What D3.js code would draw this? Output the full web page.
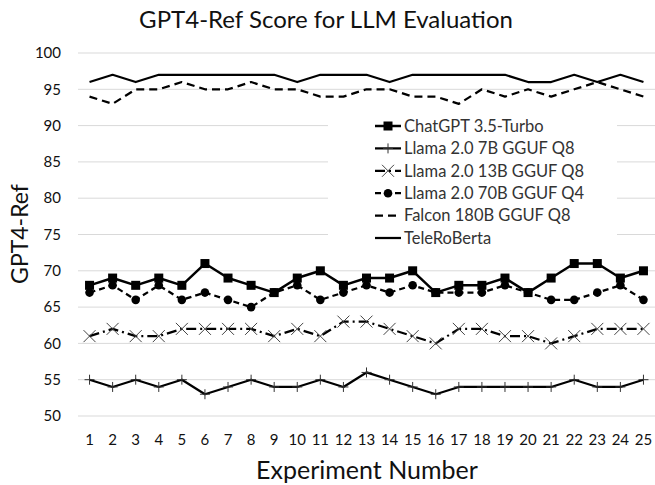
<!DOCTYPE html>
<html>
<head>
<meta charset="utf-8">
<script src="https://cdn.jsdelivr.net/npm/d3@7"></script>
<style>
  body { margin: 0; background: #fff; }
  text { font-family: Lato, "Noto Sans", sans-serif; fill: #111; }
</style>
</head>
<body>
<div id="chart"></div>
<script>
const experiments = d3.range(1, 26);
const yTicks = [50, 55, 60, 65, 70, 75, 80, 85, 90, 95, 100];

const seriesNames = ["ChatGPT 3.5-Turbo", "Llama 2.0 7B GGUF Q8", "Llama 2.0 13B GGUF Q8",
                     "Llama 2.0 70B GGUF Q4", "Falcon 180B GGUF Q8", "TeleRoBerta"];

const chatgpt   = [68,69,68,69,68,71,69,68,67,69,70,68,69,69,70,67,68,68,69,67,69,71,71,69,70];
const llama7b   = [55,54,55,54,55,53,54,55,54,54,55,54,56,55,54,53,54,54,54,54,54,55,54,54,55];
const llama13b  = [61,62,61,61,62,62,62,62,61,62,61,63,63,62,61,60,62,62,61,61,60,61,62,62,62];
const llama70b  = [67,68,66,68,66,67,66,65,67,68,66,67,68,67,68,67,67,67,68,67,66,66,67,68,66];
const falcon    = [94,93,95,95,96,95,95,96,95,95,94,94,95,95,94,94,93,95,94,95,94,95,96,95,94];
const teleroberta = [96,97,96,97,97,97,97,97,97,96,97,97,97,96,97,97,97,97,97,96,96,97,96,97,96];

const allValues = [chatgpt, llama7b, llama13b, llama70b, falcon, teleroberta];

// styling per series (index matches seriesNames)
const styles = [
  {dash: null,        width: 2.5,  marker: "square"},
  {dash: null,        width: 2.25, marker: "plus"},
  {dash: "10,4,2,4",  width: 2.25, marker: "cross"},
  {dash: "6,4",       width: 2.25, marker: "circle"},
  {dash: "8,5",       width: 2.25, marker: null},
  {dash: null,        width: 2.25, marker: null}
];

const W = 655, H = 485;
const svg = d3.select("#chart").append("svg")
  .attr("width", W).attr("height", H);

const x = d3.scaleBand().domain(experiments).range([78, 655]);
const y = d3.scaleLinear().domain([50, 100]).range([416, 53]);
const cx = d => x(d) + x.bandwidth() / 2;

// gridlines
svg.append("g").selectAll("line")
  .data(yTicks).enter().append("line")
    .attr("x1", 78).attr("x2", 655)
    .attr("y1", d => y(d)).attr("y2", d => y(d))
    .attr("stroke", "#d9d9d9").attr("stroke-width", 1);

// y tick labels
svg.append("g").selectAll("text")
  .data(yTicks).enter().append("text")
    .attr("x", 61).attr("y", d => y(d))
    .attr("text-anchor", "end").attr("dy", "0.35em")
    .style("font-size", "15px")
    .text(d => d);

// x tick labels
svg.append("g").selectAll("text")
  .data(experiments).enter().append("text")
    .attr("x", d => cx(d)).attr("y", 440)
    .attr("text-anchor", "middle").attr("dy", "0.35em")
    .style("font-size", "15px")
    .text(d => d);

function drawMarker(g, type, px, py) {
  if (type === "square") {
    g.append("rect").attr("x", px - 4.5).attr("y", py - 4.5)
      .attr("width", 9).attr("height", 9).attr("fill", "#000");
  } else if (type === "circle") {
    g.append("circle").attr("cx", px).attr("cy", py).attr("r", 4.3).attr("fill", "#000");
  } else if (type === "plus") {
    g.append("path").attr("d", `M${px-5},${py}H${px+5}M${px},${py-5}V${py+5}`)
      .attr("stroke", "#333").attr("stroke-width", 1).attr("fill", "none");
  } else if (type === "cross") {
    g.append("path").attr("d", `M${px-6},${py-6}L${px+6},${py+6}M${px-6},${py+6}L${px+6},${py-6}`)
      .attr("stroke", "#444").attr("stroke-width", 1).attr("fill", "none");
  }
}

const line = d3.line().x((d, i) => cx(experiments[i])).y(d => y(d));

allValues.forEach((vals, si) => {
  const st = styles[si];
  const g = svg.append("g").attr("class", "series");
  g.append("path")
    .attr("d", line(vals))
    .attr("fill", "none")
    .attr("stroke", "#000")
    .attr("stroke-width", st.width)
    .attr("stroke-dasharray", st.dash)
    .attr("stroke-linejoin", "round");
  if (st.marker) {
    vals.forEach((v, i) => drawMarker(g, st.marker, cx(experiments[i]), y(v)));
  }
});

// legend
const legend = svg.append("g");
legend.append("rect").attr("x", 328).attr("y", 112)
  .attr("width", 289).attr("height", 138).attr("fill", "#fff");
seriesNames.forEach((name, i) => {
  const ly = 126 + i * 22.4;
  const st = styles[i];
  legend.append("line").attr("x1", 375).attr("x2", 401)
    .attr("y1", ly).attr("y2", ly)
    .attr("stroke", "#000").attr("stroke-width", st.width)
    .attr("stroke-dasharray", st.dash);
  if (st.marker) drawMarker(legend, st.marker, 388, ly);
  legend.append("text").attr("x", 404).attr("y", ly).attr("dy", "0.35em")
    .style("font-size", "16.5px").style("fill", "#333")
    .text(name);
});

// titles
svg.append("text").attr("x", 326).attr("y", 20).attr("dy", "0.35em")
  .attr("text-anchor", "middle").style("font-size", "24px")
  .text("GPT4-Ref Score for LLM Evaluation");

svg.append("text").attr("x", 367).attr("y", 470).attr("dy", "0.35em")
  .attr("text-anchor", "middle").style("font-size", "25px")
  .text("Experiment Number");

svg.append("text")
  .attr("transform", "translate(20,234) rotate(-90)")
  .attr("dy", "0.35em").attr("text-anchor", "middle")
  .style("font-size", "23px")
  .text("GPT4-Ref");
</script>
</body>
</html>
